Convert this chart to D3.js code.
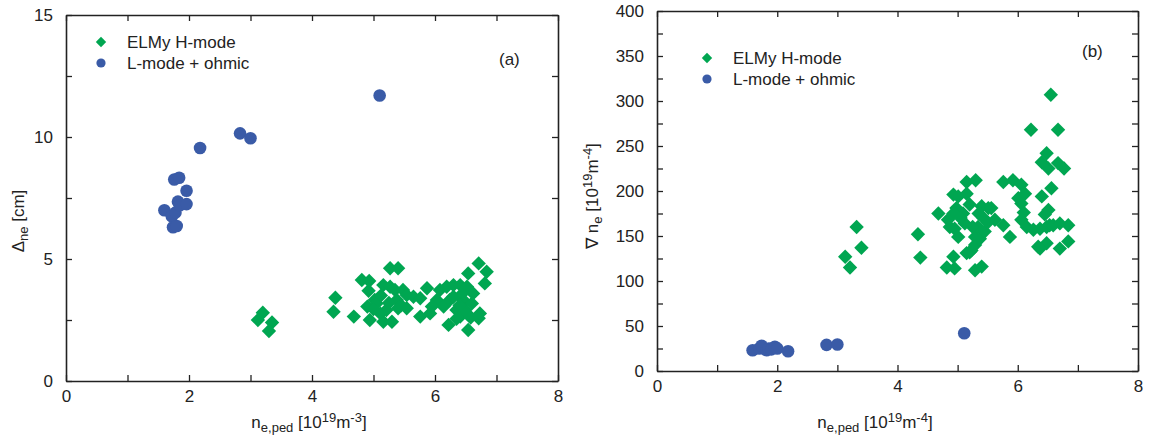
<!DOCTYPE html>
<html>
<head>
<meta charset="utf-8">
<script src="https://cdn.jsdelivr.net/npm/d3@7"></script>
<style>
  html, body { margin: 0; padding: 0; background: #fff; }
  svg { display: block; }
  text { font-family: "Liberation Sans", Arial, sans-serif; fill: #222; }
</style>
</head>
<body>
<svg id="chart" width="1149" height="437"></svg>
<script>
// ---------- DATA ----------
const seriesNames = ["ELMy H-mode", "L-mode + ohmic"];

// Panel (a): n_e,ped vs Δne [cm]
const hModeA = [
  [3.12,2.5],[3.2,2.8],[3.35,2.4],[3.3,2.05],
  [4.38,3.41],[4.35,2.84],[4.68,2.64],[4.81,4.14],[4.93,4.10],[4.92,3.70],[4.90,3.05],[4.94,2.5],
  [5.02,3.32],[5.16,2.43],[5.30,2.43],[5.27,4.62],[5.40,4.62],[5.16,3.93],[5.27,3.86],[5.35,3.73],
  [5.48,3.73],[5.54,3.52],[5.65,3.45],[5.76,3.39],[5.87,3.80],[5.38,3.32],[5.40,2.98],[5.54,2.98],
  [5.21,2.91],[5.11,2.77],[5.05,3.18],[5.76,2.64],[5.92,2.77],[6.03,3.32],[6.08,3.73],[6.19,3.86],
  [6.30,3.93],[6.41,3.93],[6.52,3.86],[6.14,3.05],[6.24,3.32],[6.35,2.91],[6.46,3.32],[6.52,2.77],
  [6.41,2.64],[6.22,2.30],[6.54,2.09],[6.71,2.57],[6.73,2.77],[6.62,3.59],[6.54,4.41],[6.71,4.82],
  [6.84,4.48],[6.81,4.00],[6.49,2.91],[6.60,3.18],
  [5.00,2.95],[5.12,3.50],[5.25,3.20],[5.45,3.10],[6.30,3.45],[6.40,3.10],[6.35,2.55],[5.95,3.05],
  [6.45,3.60],[6.58,2.60]
];
const lModeA = [
  [1.60,7.0],[1.72,6.75],[1.74,6.3],[1.80,6.35],[1.78,6.9],[1.82,7.35],[1.85,7.2],[1.96,7.25],
  [1.96,7.8],[1.76,8.26],[1.84,8.33],[2.18,9.55],[2.83,10.15],[3.0,9.95],[5.1,11.7]
];

// Panel (b): n_e,ped vs ∇ne [10^19 m^-4]
const hModeB = [
  [3.13,127],[3.21,115],[3.32,160],[3.40,137],
  [4.34,152],[4.38,126],[4.68,175],[4.82,115],[4.95,114],[4.93,127],[4.87,160],[4.93,196],[4.98,181],
  [5.09,175],[4.93,175],[4.84,168],[4.95,158],[5.01,149],[5.15,210],[5.30,212],[5.15,197],[5.01,194],
  [5.12,164],[5.20,132],[5.29,140],[5.37,147],[5.29,149],[5.34,160],[5.29,112],[5.40,116],[5.15,131],
  [5.23,134],[5.40,183],[5.51,181],[5.56,181],[5.43,170],[5.62,168],[5.76,162],[5.87,149],[5.76,210],
  [5.92,212],[6.01,192],[6.06,186],[6.06,207],[6.12,197],[6.06,168],[6.15,160],[6.26,157],[6.37,158],
  [6.48,160],[6.53,162],[6.59,162],[6.70,164],[6.84,162],[6.34,138],[6.48,142],[6.37,136],[6.70,136],
  [6.84,144],[6.40,194],[6.51,179],[6.56,203],[6.40,232],[6.48,242],[6.51,225],[6.67,231],[6.77,225],
  [6.22,268],[6.67,268],[6.55,307],
  [5.05,170],[5.20,185],[5.45,155],[5.35,175],[5.50,165],[6.10,176],[6.45,174],[5.25,160]
];
const lModeB = [
  [1.59,23],[1.70,25],[1.74,28],[1.82,23],[1.86,25],[1.90,24],[1.96,27],[2.0,25],
  [2.18,22],[2.82,29],[3.0,29.5],[5.11,42]
];

const xTicks = [0,1,2,3,4,5,6,7,8];
const xTickLabels = [0,2,4,6,8];
const yTicksA = [0,2.5,5,7.5,10,12.5,15];
const yTickLabelsA = [0,5,10,15];
const yTicksB = [0,25,50,75,100,125,150,175,200,225,250,275,300,325,350,375,400];
const yTickLabelsB = [0,50,100,150,200,250,300,350,400];

// ---------- STYLE ----------
const GREEN = "#00a651";
const BLUE = "#3a5ba7";
const FS = 17;

const svg = d3.select("#chart");

function diamondPath(r) {
  return `M0,${-r}L${r},0L0,${r}L${-r},0Z`;
}

function panel(cfg) {
  const x = d3.scaleLinear().domain([0, 8]).range([cfg.x0, cfg.x1]);
  const y = d3.scaleLinear().domain(cfg.yDomain).range([cfg.y0, cfg.y1]);
  const g = svg.append("g");

  const fmtX = d => xTickLabels.includes(d) ? d : "";
  const fmtY = d => cfg.yLabels.includes(d) ? d : "";

  const axes = [
    g.append("g").attr("transform", `translate(0,${cfg.y0})`)
      .call(d3.axisBottom(x).tickValues(xTicks).tickFormat(fmtX).tickSize(-6).tickSizeOuter(0).tickPadding(9)),
    g.append("g").attr("transform", `translate(0,${cfg.y1})`)
      .call(d3.axisTop(x).tickValues(xTicks).tickFormat("").tickSize(-6).tickSizeOuter(0)),
    g.append("g").attr("transform", `translate(${cfg.x0},0)`)
      .call(d3.axisLeft(y).tickValues(cfg.yTicks).tickFormat(fmtY).tickSize(-6).tickSizeOuter(0).tickPadding(13)),
    g.append("g").attr("transform", `translate(${cfg.x1},0)`)
      .call(d3.axisRight(y).tickValues(cfg.yTicks).tickFormat("").tickSize(-6).tickSizeOuter(0))
  ];
  axes.forEach(a => {
    a.select(".domain").attr("stroke", "#222").attr("stroke-width", 1.6);
    a.selectAll(".tick line").attr("stroke", "#222").attr("stroke-width", 1.3);
    a.selectAll(".tick text").style("font-size", FS + "px").attr("fill", "#222")
      .style("font-family", '"Liberation Sans", Arial, sans-serif');
  });

  // points
  g.append("g").selectAll("path").data(cfg.h).join("path")
    .attr("d", diamondPath(7.2))
    .attr("transform", d => `translate(${x(d[0])},${y(d[1])})`)
    .attr("fill", GREEN);
  g.append("g").selectAll("circle").data(cfg.l).join("circle")
    .attr("cx", d => x(d[0])).attr("cy", d => y(d[1])).attr("r", 6.3)
    .attr("fill", BLUE);

  // legend
  const lg = g.append("g");
  lg.append("path").attr("d", diamondPath(5.2))
    .attr("transform", `translate(${cfg.legX},${cfg.legY})`).attr("fill", GREEN);
  lg.append("circle").attr("cx", cfg.legX).attr("cy", cfg.legY + 21).attr("r", 4.6).attr("fill", BLUE);
  lg.append("text").attr("x", cfg.legX + 26).attr("y", cfg.legY + 6).style("font-size", FS + "px").text(seriesNames[0]);
  lg.append("text").attr("x", cfg.legX + 26).attr("y", cfg.legY + 27).style("font-size", FS + "px").text(seriesNames[1]);

  // panel tag
  g.append("text").attr("x", cfg.tagX).attr("y", cfg.tagY).style("font-size", FS + "px").text(cfg.tag);

  // x label
  const xl = g.append("text").attr("x", cfg.xLabX).attr("y", 428).attr("text-anchor", "middle").style("font-size", FS + "px");
  xl.append("tspan").text("n");
  xl.append("tspan").attr("dy", 4).style("font-size", "13px").text("e,ped");
  xl.append("tspan").attr("dy", -4).text(" [10");
  xl.append("tspan").attr("dy", -6).style("font-size", "13px").text("19");
  xl.append("tspan").attr("dy", 6).text("m");
  xl.append("tspan").attr("dy", -6).style("font-size", "13px").text(cfg.xExp);
  xl.append("tspan").attr("dy", 6).text("]");

  // y label
  const yl = g.append("text")
    .attr("transform", `translate(${cfg.yLabX},${cfg.yLabY}) rotate(-90)`)
    .attr("text-anchor", "middle").style("font-size", FS + "px");
  cfg.yLabel(yl);
}

panel({
  x0: 66, x1: 558, y0: 381, y1: 15, yDomain: [0, 15],
  yTicks: yTicksA, yLabels: yTickLabelsA,
  h: hModeA, l: lModeA,
  legX: 101, legY: 42, tag: "(a)", tagX: 499, tagY: 65,
  xLabX: 309, xExp: "-3",
  yLabX: 24, yLabY: 221,
  yLabel: t => {
    t.append("tspan").text("\u0394");
    t.append("tspan").attr("dy", 4).style("font-size", "13px").text("ne");
    t.append("tspan").attr("dy", -4).text(" [cm]");
  }
});

panel({
  x0: 657, x1: 1138, y0: 371, y1: 11, yDomain: [0, 400],
  yTicks: yTicksB, yLabels: yTickLabelsB,
  h: hModeB, l: lModeB,
  legX: 707, legY: 58, tag: "(b)", tagX: 1082, tagY: 57,
  xLabX: 875, xExp: "-4",
  yLabX: 598, yLabY: 196,
  yLabel: t => {
    t.append("tspan").text("\u2207 n");
    t.append("tspan").attr("dy", 4).style("font-size", "13px").text("e");
    t.append("tspan").attr("dy", -4).text(" [10");
    t.append("tspan").attr("dy", -6).style("font-size", "13px").text("19");
    t.append("tspan").attr("dy", 6).text("m");
    t.append("tspan").attr("dy", -6).style("font-size", "13px").text("-4");
    t.append("tspan").attr("dy", 6).text("]");
  }
});
</script>
</body>
</html>
